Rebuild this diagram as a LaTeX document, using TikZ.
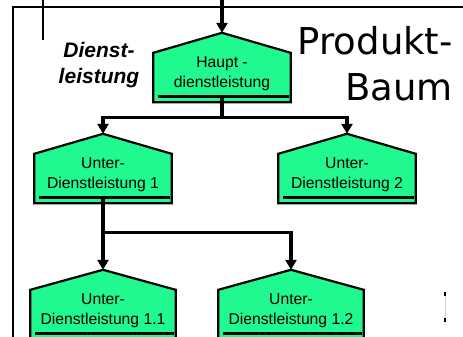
\documentclass[tikz,border=0pt]{standalone}
\usepackage{fontspec}
\setsansfont{Liberation Sans}
\newfontfamily\titlefont{DejaVu Sans}
\usetikzlibrary{arrows.meta}
\definecolor{dienstColor}{HTML}{20F890}

\pgfdeclarelayer{background}
\pgfsetlayers{background,main}

\tikzset{
  dienst/.style={minimum width=137pt, minimum height=42pt, inner sep=0pt, align=center,
    font=\sffamily\fontsize{15.7}{20}\selectfont},
  house/.style={draw=black, line width=2.2pt, fill=dienstColor},
  link/.style={line width=3.2pt, -{Triangle[length=10pt,width=11pt]}},
}

\begin{document}
\begin{tikzpicture}[x=1pt,y=-1pt]
  \useasboundingbox (0,0) rectangle (463,337);
  % Rahmen
  \draw[line width=2.4pt] (13,337) -- (13,7) -- (463,7);
  \draw[line width=2.4pt] (43,0) -- (43,40);
  \draw[gray!35, line width=0.8pt] (445,292) -- (445,322);
  \draw[line width=1.2pt] (445,292) -- (445,296) (445,318) -- (445,322);

  \node[font=\sffamily\bfseries\itshape\fontsize{21}{26}\selectfont, align=center, anchor=north, inner sep=0pt] (dl) at (99,42) {Dienst-\\leistung};
  \node[font=\titlefont\fontsize{37}{46}\selectfont, align=right, anchor=north east, inner sep=0pt] (pb) at (453,26) {Produkt-\\Baum};

  \node[dienst] (haupt) at (222,74) {Haupt -\\dienstleistung};
  \node[dienst] (ud1) at (103,175) {Unter-\\Dienstleistung 1};
  \node[dienst] (ud2) at (347,175) {Unter-\\Dienstleistung 2};
  \node[dienst, minimum width=145pt] (ud11) at (103,311) {Unter-\\Dienstleistung 1.1};
  \node[dienst, minimum width=145pt] (ud12) at (291,311) {Unter-\\Dienstleistung 1.2};

  \begin{pgfonlayer}{background}
    \foreach \n in {haupt,ud1,ud2,ud11,ud12}{
      \coordinate (\n-top) at ([yshift=20pt]\n.north);
      \draw[house] ([yshift=-7pt]\n.south west) -- (\n.north west) -- (\n-top)
        -- (\n.north east) -- ([yshift=-7pt]\n.south east) -- cycle;
      \draw[line width=3.5pt] ([xshift=5pt,yshift=-1.5pt]\n.south west) -- ([xshift=-2pt,yshift=-1.5pt]\n.south east);
    }
  \end{pgfonlayer}

  \coordinate (in) at (222,0);
  \draw[link] (in) -- (haupt-top);
  \draw[link] (haupt.south) -- ++(0,22) -| (ud1-top);
  \draw[link] (haupt.south) -- ++(0,22) -| (ud2-top);
  \draw[link] (ud1.south) -- ++(0,36) -| (ud11-top);
  \draw[link] (ud1.south) -- ++(0,36) -| (ud12-top);
\end{tikzpicture}
\end{document}
